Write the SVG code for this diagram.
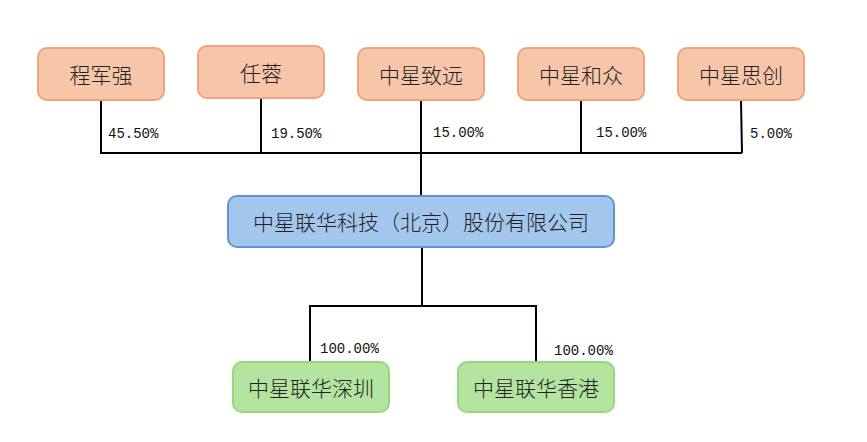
<svg xmlns="http://www.w3.org/2000/svg" width="867" height="442" viewBox="0 0 867 442">
<style>
.o{fill:#F7C6A9;stroke:#EFA47C;stroke-width:2}
.b{fill:#A3C7EC;stroke:#5A97D6;stroke-width:2}
.g{fill:#B3E5A0;stroke:#94DA7B;stroke-width:2}
.t{font-family:"Noto Sans CJK SC","Noto Sans CJK JP",sans-serif;font-size:21px;font-weight:300;fill:#222;text-anchor:middle;dominant-baseline:central}
.p{font-family:"Liberation Mono","DejaVu Sans Mono",monospace;font-size:14px;fill:#111}
.c{fill:none;stroke:#000;stroke-width:2}
</style>
<rect width="867" height="442" fill="#fff"/>
<g id="connectors">
<path class="c" d="M101 100V153H742M261 98V153M421 100V195M581 100V153M741 100L742 153"/>
<path class="c" d="M422 247V306M310 361V306H536V361"/>
<text class="p" x="108" y="138">45.50%</text>
<text class="p" x="271" y="138">19.50%</text>
<text class="p" x="433" y="137">15.00%</text>
<text class="p" x="596" y="137">15.00%</text>
<text class="p" x="750" y="138">5.00%</text>
<text class="p" x="320" y="353">100.00%</text>
<text class="p" x="554" y="355">100.00%</text>
</g>
<g id="n1"><rect class="o" x="38" y="48" width="126" height="52" rx="9"/><text class="t" x="101" y="74">程军强</text></g>
<g id="n2"><rect class="o" x="198" y="46" width="126" height="52" rx="9"/><text class="t" x="261" y="72">任蓉</text></g>
<g id="n3"><rect class="o" x="358" y="48" width="126" height="52" rx="9"/><text class="t" x="421" y="74">中星致远</text></g>
<g id="n4"><rect class="o" x="518" y="48" width="126" height="52" rx="9"/><text class="t" x="581" y="74">中星和众</text></g>
<g id="n5"><rect class="o" x="678" y="48" width="126" height="52" rx="9"/><text class="t" x="741" y="74">中星思创</text></g>
<g id="n6"><rect class="b" x="228" y="196" width="386" height="51" rx="9"/><text class="t" x="421" y="221">中星联华科技（北京）股份有限公司</text></g>
<g id="n7"><rect class="g" x="233" y="362" width="156" height="50" rx="9"/><text class="t" x="311" y="387">中星联华深圳</text></g>
<g id="n8"><rect class="g" x="458" y="362" width="156" height="50" rx="9"/><text class="t" x="536" y="387">中星联华香港</text></g>
</svg>
